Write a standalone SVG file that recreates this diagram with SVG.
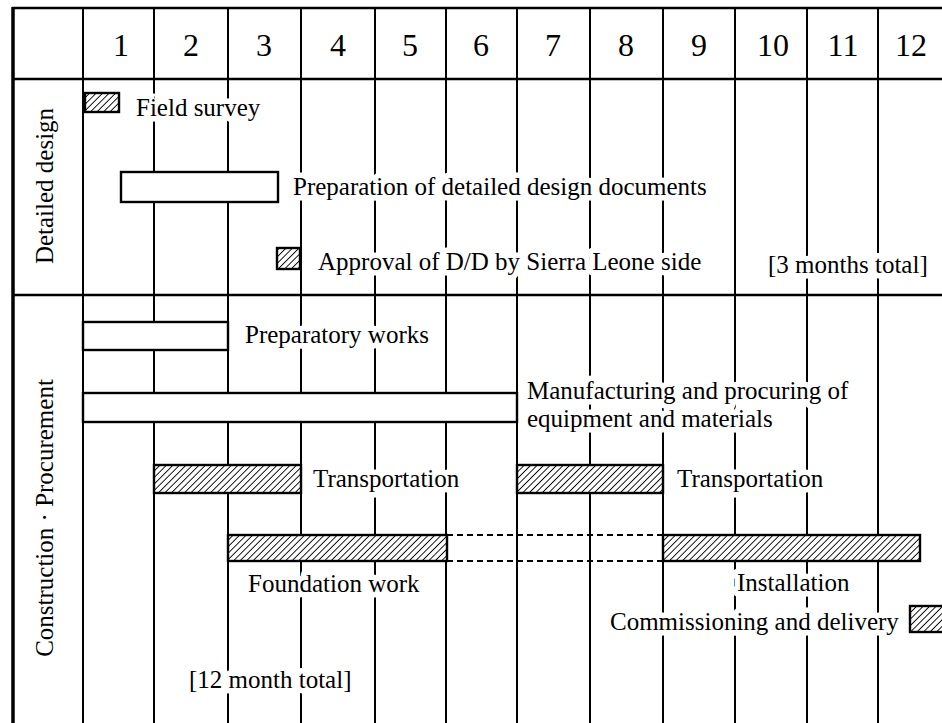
<svg xmlns="http://www.w3.org/2000/svg" width="942" height="723" viewBox="0 0 942 723">
<defs>
<pattern id="hatch" patternUnits="userSpaceOnUse" width="4.6" height="4.6" patternTransform="rotate(45)">
<rect width="4.6" height="4.6" fill="#fff"/>
<line x1="0" y1="0" x2="0" y2="4.6" stroke="#000" stroke-width="1.8"/>
</pattern>
<style>
.grid{stroke:#000;stroke-width:2;fill:none}
.border{stroke:#000;stroke-width:2.6;fill:none}
.t{font-family:"Liberation Serif","Times New Roman",serif;font-size:25px;fill:#000;paint-order:stroke;stroke:#fff;stroke-width:11px;stroke-linejoin:round}
.num{font-family:"Liberation Serif","Times New Roman",serif;font-size:32px;fill:#000;text-anchor:middle}
.lbl{font-family:"Liberation Serif","Times New Roman",serif;font-size:25px;fill:#000;text-anchor:middle}
.bar{fill:#fff;stroke:#000;stroke-width:2.4}
.hbar{fill:url(#hatch);stroke:#000;stroke-width:2.4}
.dash{stroke:#000;stroke-width:2;stroke-dasharray:6 4;fill:none}
</style>
</defs>
<rect width="942" height="723" fill="#fff"/>
<g id="grid">
<line class="grid" x1="83" y1="8" x2="83" y2="723"/>
<line class="grid" x1="154" y1="8" x2="154" y2="723"/>
<line class="grid" x1="228" y1="8" x2="228" y2="723"/>
<line class="grid" x1="301" y1="8" x2="301" y2="723"/>
<line class="grid" x1="375" y1="8" x2="375" y2="723"/>
<line class="grid" x1="446" y1="8" x2="446" y2="723"/>
<line class="grid" x1="517" y1="8" x2="517" y2="723"/>
<line class="grid" x1="590" y1="8" x2="590" y2="723"/>
<line class="grid" x1="663" y1="8" x2="663" y2="723"/>
<line class="grid" x1="735" y1="8" x2="735" y2="723"/>
<line class="grid" x1="807" y1="8" x2="807" y2="723"/>
<line class="grid" x1="878" y1="8" x2="878" y2="723"/>
<line class="border" x1="12" y1="8" x2="942" y2="8"/>
<line class="border" x1="12" y1="79" x2="942" y2="79"/>
<line class="border" x1="12" y1="295" x2="942" y2="295"/>
<line x1="13" y1="7" x2="13" y2="723" stroke="#000" stroke-width="3.5"/>
</g>
<g id="header">
<text class="num" x="121" y="56">1</text>
<text class="num" x="191" y="56">2</text>
<text class="num" x="264" y="56">3</text>
<text class="num" x="338" y="56">4</text>
<text class="num" x="410" y="56">5</text>
<text class="num" x="481" y="56">6</text>
<text class="num" x="553" y="56">7</text>
<text class="num" x="626" y="56">8</text>
<text class="num" x="699" y="56">9</text>
<text class="num" x="773" y="56">10</text>
<text class="num" x="843" y="56">11</text>
<text class="num" x="911" y="56">12</text>
</g>
<g id="section-detailed-design">
<text class="lbl" transform="translate(53,186) rotate(-90)">Detailed design</text>
</g>
<g id="section-construction">
<text class="lbl" transform="translate(53,518) rotate(-90)">Construction · Procurement</text>
</g>
<g id="connectors">
<line class="dash" x1="447" y1="535" x2="663" y2="535"/>
<line class="dash" x1="447" y1="561" x2="663" y2="561"/>
</g>
<g id="field-survey">
<rect class="hbar" x="85" y="93" width="34" height="19"/>
<text class="t" x="136" y="116">Field survey</text>
</g>
<g id="preparation-dd">
<rect class="bar" x="121" y="172" width="157" height="30"/>
<text class="t" x="293" y="195">Preparation of detailed design documents</text>
</g>
<g id="approval">
<rect class="hbar" x="277" y="248" width="23" height="21"/>
<text class="t" x="318" y="270">Approval of D/D by Sierra Leone side</text>
</g>
<g id="total-3">
<text class="t" x="768" y="273">[3 months total]</text>
</g>
<g id="preparatory-works">
<rect class="bar" x="83" y="322" width="145" height="28"/>
<text class="t" x="245" y="343">Preparatory works</text>
</g>
<g id="manufacturing">
<rect class="bar" x="83" y="393" width="434" height="29"/>
<text class="t" x="527" y="399">Manufacturing and procuring of</text>
<text class="t" x="527" y="427">equipment and materials</text>
</g>
<g id="transportation-1">
<rect class="hbar" x="154" y="465" width="147" height="28"/>
<text class="t" x="313" y="487">Transportation</text>
</g>
<g id="transportation-2">
<rect class="hbar" x="517" y="465" width="146" height="28"/>
<text class="t" x="677" y="487">Transportation</text>
</g>
<g id="foundation-work">
<rect class="hbar" x="228" y="535" width="219" height="26"/>
<text class="t" x="248" y="592">Foundation work</text>
</g>
<g id="installation">
<rect class="hbar" x="663" y="535" width="257" height="26"/>
<text class="t" x="737" y="591">Installation</text>
</g>
<g id="commissioning">
<text class="t" x="610" y="630">Commissioning and delivery</text>
<rect class="hbar" x="910" y="606" width="36" height="26"/>
</g>
<g id="total-12">
<text class="t" x="189" y="688">[12 month total]</text>
</g>
</svg>
